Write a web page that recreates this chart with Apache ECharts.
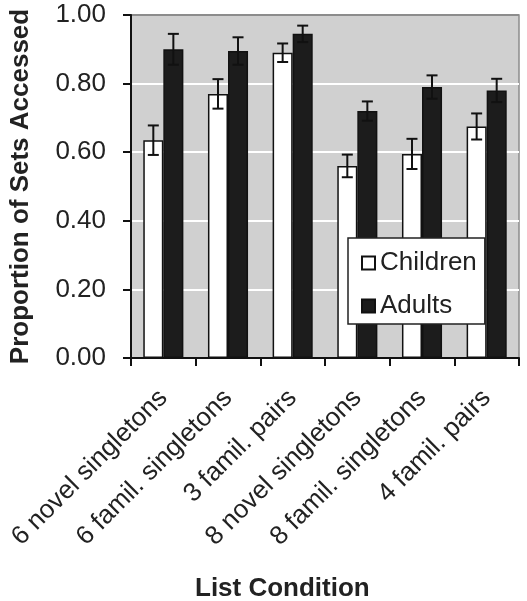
<!DOCTYPE html>
<html>
<head>
<meta charset="utf-8">
<script src="https://cdn.jsdelivr.net/npm/echarts@6/dist/echarts.min.js"></script>
<style>
  html, body { margin: 0; padding: 0; background: #fff; }
  #chart { width: 527px; height: 601px; }
</style>
</head>
<body>
<div id="chart"></div>
<script>
const categories = ['6 novel singletons', '6 famil. singletons', '3 famil. pairs', '8 novel singletons', '8 famil. singletons', '4 famil. pairs'];
const children = [0.635, 0.77, 0.89, 0.56, 0.595, 0.675];
const adults = [0.90, 0.895, 0.945, 0.72, 0.79, 0.78];
const childrenErr = [0.043, 0.043, 0.027, 0.033, 0.044, 0.038];
const adultsErr = [0.045, 0.040, 0.024, 0.028, 0.034, 0.034];
const yTicks = [0, 0.2, 0.4, 0.6, 0.8, 1.0];

const FONT = '"Liberation Sans", Arial, Helvetica, sans-serif';
const TEXT = '#222';

function errSeries(name, vals, errs, side) {
  return {
    name: name,
    type: 'custom',
    z: 5,
    silent: true,
    data: vals.map((v, i) => [i, v, errs[i]]),
    renderItem: function (params, api) {
      const cat = api.value(0), v = api.value(1), e = api.value(2);
      const band = api.size([1, 0])[0];
      const x = api.coord([cat, v])[0] + side * band * 0.155;
      const yHi = api.coord([cat, v + e])[1];
      const yLo = api.coord([cat, v - e])[1];
      const hw = 5.5;
      const style = { stroke: '#111', lineWidth: 2 };
      return {
        type: 'group',
        children: [
          { type: 'line', shape: { x1: x, y1: yHi, x2: x, y2: yLo }, style: style },
          { type: 'line', shape: { x1: x - hw, y1: yHi, x2: x + hw, y2: yHi }, style: style },
          { type: 'line', shape: { x1: x - hw, y1: yLo, x2: x + hw, y2: yLo }, style: style }
        ]
      };
    }
  };
}

const chart = echarts.init(document.getElementById('chart'), null, { renderer: 'canvas' });
chart.setOption({
  animation: false,
  backgroundColor: '#fff',
  textStyle: { fontFamily: FONT },
  title: {
    text: 'List Condition',
    left: 195,
    top: 576,
    padding: 0,
    textStyle: { fontFamily: FONT, fontSize: 26, fontWeight: 'bold', color: TEXT }
  },
  grid: {
    left: 131, right: 8, top: 15, bottom: 243,
    show: true,
    backgroundColor: '#d0d0d0',
    borderColor: '#8c8c8c',
    borderWidth: 1.5
  },
  legend: {
    data: ['Children', 'Adults'],
    orient: 'vertical',
    left: 348,
    top: 238,
    padding: [12, 8, 5, 13],
    itemGap: 17,
    itemWidth: 13,
    itemHeight: 13,
    icon: 'rect',
    backgroundColor: '#fff',
    borderColor: '#222',
    borderWidth: 1.5,
    borderRadius: 0,
    textStyle: { fontFamily: FONT, fontSize: 26, lineHeight: 26, color: TEXT }
  },
  xAxis: {
    type: 'category',
    data: categories,
    axisLine: { lineStyle: { color: '#111', width: 2 } },
    axisTick: { show: true, length: 8, inside: false, lineStyle: { color: '#111', width: 2 } },
    axisLabel: {
      rotate: 45,
      interval: 0,
      margin: 36,
      fontFamily: FONT,
      fontSize: 26,
      color: TEXT
    },
    splitLine: { show: false }
  },
  yAxis: {
    type: 'value',
    min: 0,
    max: 1,
    interval: 0.2,
    name: 'Proportion of Sets Accessed',
    nameLocation: 'middle',
    nameGap: 97,
    nameTextStyle: { fontFamily: FONT, fontSize: 26, fontWeight: 'bold', color: TEXT },
    axisLine: { show: true, lineStyle: { color: '#111', width: 2 } },
    axisTick: { show: true, length: 8, lineStyle: { color: '#111', width: 2 } },
    axisLabel: {
      margin: 25,
      fontFamily: FONT,
      fontSize: 26,
      color: TEXT,
      formatter: v => (yTicks.includes(Math.round(v * 10) / 10) ? v.toFixed(2) : '')
    },
    splitLine: {
      show: true,
      lineStyle: { color: ['#ffffff', '#ffffff', '#ffffff', '#ffffff', '#ffffff', '#8c8c8c'], width: 2 }
    }
  },
  series: [
    {
      name: 'Children',
      type: 'bar',
      data: children,
      barWidth: '31%',
      barGap: '0%',
      itemStyle: { color: '#ffffff', borderColor: '#111', borderWidth: 1.5 }
    },
    {
      name: 'Adults',
      type: 'bar',
      data: adults,
      barWidth: '31%',
      barGap: '0%',
      itemStyle: { color: '#1c1c1c', borderColor: '#111', borderWidth: 1.5 }
    },
    errSeries('Children SE', children, childrenErr, -1),
    errSeries('Adults SE', adults, adultsErr, 1)
  ]
});
</script>
</body>
</html>
